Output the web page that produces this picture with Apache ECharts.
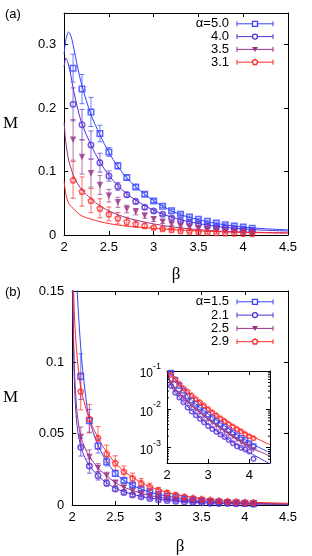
<!DOCTYPE html>
<html><head><meta charset="utf-8">
<script src="https://cdn.jsdelivr.net/npm/echarts@6/dist/echarts.min.js"></script>
<style>html,body{margin:0;padding:0;background:#fff}#c{width:312px;height:556px}</style>
</head><body><div id="c"></div>
<script>
// ---------- data ----------
const beta = [2.1,2.2,2.3,2.4,2.5,2.6,2.7,2.8,2.9,3.0,3.1,3.2,3.3,3.4,3.5,3.6,3.7,3.8,3.9,4.0,4.1];

// panel (a)
const legendA = ['α=5.0','4.0','3.5','3.1'];
const a50 = [0.263,0.230,0.194,0.160,0.131,0.109,0.0905,0.0758,0.0643,0.0537,0.0453,0.0384,0.0327,0.0284,0.0248,0.0216,0.0190,0.0163,0.0142,0.0126,0.0105];
const a40 = [0.206,0.174,0.142,0.114,0.093,0.0765,0.0635,0.053,0.0437,0.038,0.0327,0.0269,0.0226,0.0195,0.0169,0.0142,0.0121,0.0105,0.0095,0.0084,0.0068];
const a35 = [0.150,0.123,0.0975,0.079,0.062,0.0516,0.041,0.0368,0.0305,0.0248,0.021,0.0174,0.0147,0.0126,0.0105,0.009,0.0074,0.0063,0.0053,0.0042,0.0032];
const a31 = [0.0869,0.0685,0.0542,0.0421,0.0332,0.0264,0.021,0.0174,0.0147,0.0121,0.0100,0.0084,0.0068,0.0058,0.0047,0.0042,0.0036,0.0030,0.0026,0.0024,0.0020];
const ea50 = [0.022,0.023,0.023,0.013,0.007,0.005,0.004,0.003,0.003,0.0025,0.002,0.002,0.002,0.0015,0.0015,0.0015,0.0015,0.0015,0.0015,0.0015,0.0015];
const ea40 = [0.026,0.024,0.022,0.015,0.008,0.006,0.004,0.0035,0.003,0.0025,0.002,0.002,0.0015,0.0015,0.0015,0.0015,0.0015,0.0015,0.0015,0.0015,0.0015];
const ea35 = [0.032,0.027,0.022,0.015,0.010,0.008,0.006,0.005,0.004,0.0035,0.003,0.0025,0.002,0.002,0.0015,0.0015,0.0015,0.0015,0.0015,0.0015,0.0015];
const ea31 = [0.029,0.023,0.019,0.015,0.011,0.009,0.007,0.005,0.004,0.003,0.0025,0.002,0.002,0.0015,0.0015,0.0015,0.0015,0.0015,0.0015,0.0015,0.0015];
const curveBetaA = [2.0,2.02,2.05,2.08,2.1,2.15,2.2,2.3,2.4,2.5,2.6,2.7,2.8,3.0,3.25,3.5,3.75,4.0,4.25,4.5];
const fa50 = [0.285,0.308,0.320,0.312,0.300,0.265,0.235,0.190,0.158,0.130,0.108,0.090,0.076,0.054,0.035,0.024,0.017,0.0125,0.0098,0.008];
const fa40 = [0.265,0.279,0.268,0.248,0.232,0.200,0.175,0.142,0.115,0.094,0.078,0.065,0.055,0.039,0.026,0.018,0.013,0.0095,0.0075,0.0063];
const fa35 = [0.178,0.145,0.118,0.104,0.095,0.081,0.071,0.057,0.046,0.038,0.032,0.027,0.0235,0.0175,0.012,0.0085,0.006,0.0048,0.004,0.0035];
const fa31 = [0.085,0.064,0.050,0.045,0.042,0.035,0.030,0.025,0.021,0.018,0.0158,0.0142,0.0128,0.0105,0.0082,0.0065,0.0052,0.0042,0.0034,0.0028];

// panel (b)
const legendB = ['α=1.5','2.1','2.5','2.9'];
const b15 = [0.090,0.059,0.0414,0.0304,0.0221,0.0171,0.0140,0.0112,0.0092,0.0073,0.0060,0.0050,0.0042,0.0035,0.0029,0.0025,0.0021,0.0018,0.0016,0.0013,0.0011];
const b21 = [0.0405,0.0273,0.0205,0.0153,0.0112,0.0088,0.0070,0.0057,0.0046,0.0037,0.0031,0.0026,0.0022,0.0019,0.0016,0.0013,0.0011,0.0010,0.0009,0.0008,0.00052];
const b25 = [0.0477,0.0336,0.026,0.0205,0.0155,0.0122,0.0098,0.0080,0.0065,0.0053,0.0044,0.0037,0.0031,0.0026,0.0022,0.0019,0.0016,0.0014,0.0012,0.0011,0.0009];
const b29 = [0.0797,0.0605,0.047,0.036,0.0295,0.0234,0.0189,0.0155,0.0128,0.0103,0.0085,0.0071,0.0059,0.0050,0.0042,0.0036,0.0031,0.0027,0.0023,0.0020,0.0018];
const eb15 = [0.016,0.008,0.005,0.003,0.002,0.0015,0.0012,0.001,0.001,0.0008,0.0008,0.0007,0.0007,0.0006,0.0006,0.0006,0.0005,0.0005,0.0005,0.0005,0.0005];
const eb21 = [0.0062,0.005,0.003,0.002,0.0015,0.0012,0.001,0.0008,0.0008,0.0007,0.0006,0.0006,0.0005,0.0005,0.0005,0.0005,0.0005,0.0005,0.0005,0.0005,0.0005];
const eb25 = [0.007,0.005,0.003,0.0025,0.002,0.0015,0.0012,0.001,0.0009,0.0008,0.0007,0.0006,0.0006,0.0005,0.0005,0.0005,0.0005,0.0005,0.0005,0.0005,0.0005];
const eb29 = [0.013,0.010,0.008,0.006,0.005,0.004,0.0035,0.003,0.0025,0.002,0.0018,0.0015,0.0012,0.001,0.001,0.0009,0.0008,0.0008,0.0007,0.0007,0.0007];
const curveBetaB = [2.0,2.02,2.05,2.1,2.15,2.2,2.3,2.4,2.5,2.6,2.8,3.0,3.25,3.5,3.75,4.0,4.25,4.5];
const fb15 = [0.40,0.28,0.165,0.110,0.080,0.060,0.042,0.0305,0.0225,0.0172,0.0112,0.0075,0.0048,0.0031,0.0020,0.0014,0.0010,0.00074];
const fb21 = [0.20,0.10,0.060,0.041,0.033,0.0275,0.0205,0.0155,0.0118,0.0093,0.0060,0.0040,0.0025,0.0016,0.0011,0.00075,0.00053,0.00038];
const fb25 = [0.20,0.11,0.070,0.048,0.040,0.034,0.026,0.0205,0.0158,0.0125,0.0082,0.0055,0.0035,0.0023,0.0015,0.0010,0.0008,0.0006];
const fb29 = [0.25,0.145,0.110,0.082,0.070,0.060,0.047,0.037,0.0295,0.0238,0.0158,0.0107,0.0068,0.0045,0.0030,0.0021,0.0016,0.0012];

// inset log-axis minor tick values
const insetMinor = [5e-4,6e-4,7e-4,8e-4,9e-4,2e-3,3e-3,4e-3,5e-3,6e-3,7e-3,8e-3,9e-3,2e-2,3e-2,4e-2,5e-2,6e-2,7e-2,8e-2,9e-2];

// ---------- style ----------
const colors = ['#3344ff','#5530d8','#993388','#ff2a2a'];
const symbols = ['rect','circle','triangle','path://M0,-1 L0.951,-0.309 L0.588,0.809 L-0.588,0.809 L-0.951,-0.309 Z'];
const FONT = 'Liberation Sans';

function zip(xs, ys){ return xs.map((x,i)=>[x, ys[i]]); }
function errData(xs, ys, es){ return xs.map((x,i)=>[x, ys[i]-es[i], ys[i]+es[i]]); }

function axisPair(gi, min, max, interval, isX, labels, extra){
  const common = {
    gridIndex: gi, min: min, max: max, interval: interval,
    axisLine: {show: true, onZero: false, lineStyle: {color: '#000', width: 1}},
    axisTick: {show: true, inside: true, length: 4, lineStyle: {color: '#000'}},
    splitLine: {show: false}
  };
  const main = Object.assign({}, common, {
    type: 'value', position: isX ? 'bottom' : 'left',
    axisLabel: {show: true, color: '#000', fontSize: 13, fontFamily: FONT, margin: isX ? 6 : 8, showMaxLabel: labels.showMax !== false}
  }, extra || {});
  const mirror = Object.assign({}, common, {
    type: main.type, position: isX ? 'top' : 'right', axisLabel: {show: false}
  });
  return [main, mirror];
}

const nameStyle = {fontSize: 17, fontFamily: 'Liberation Serif', color: '#000'};
const xAxes = [], yAxes = [];
// panel a
xAxes.push(...axisPair(0, 2, 4.5, 0.5, true, {}, {name: 'β', nameLocation: 'middle', nameGap: 31, nameTextStyle: nameStyle}));
yAxes.push(...axisPair(0, 0, 0.35, 0.1, false, {showMax: false}, {name: 'M', nameLocation: 'middle', nameGap: 46, nameRotate: 0, nameTextStyle: nameStyle}));
// panel b
xAxes.push(...axisPair(1, 2, 4.5, 0.5, true, {}, {name: 'β', nameLocation: 'middle', nameGap: 33, nameTextStyle: nameStyle}));
yAxes.push(...axisPair(1, 0, 0.15, 0.05, false, {}, {name: 'M', nameLocation: 'middle', nameGap: 54, nameRotate: 0, nameTextStyle: nameStyle}));
// inset
xAxes.push(...axisPair(2, 2, 4.5, 1, true, {showMax: false}, {}));
const insetY = axisPair(2, 4e-4, 0.1, null, false, {}, {
  type: 'log', logBase: 10,
  axisLabel: {show: true, color: '#000', fontSize: 12, fontFamily: FONT, margin: 6, showMinLabel: false,
    formatter: function(v){ const e = Math.log10(v); const r = Math.round(e); if (Math.abs(e-r) > 1e-6) return ''; return '{b|10}{s|' + r + '}'; },
    rich: {b: {fontSize: 12, fontFamily: FONT, verticalAlign: 'bottom', lineHeight: 18}, s: {fontSize: 9, fontFamily: FONT, verticalAlign: 'top', lineHeight: 18}}}
});
delete insetY[0].interval; delete insetY[1].interval;
insetY[1].type = 'log'; insetY[1].logBase = 10;
yAxes.push(...insetY);

const series = [];
function addPanel(xi, yi, vals, errs, curveX, curves, withErr, symSize, z){
  vals.forEach((v, k) => {
    series.push({type: 'line', xAxisIndex: xi, yAxisIndex: yi, data: zip(curveX, curves[k]), smooth: 0.35, showSymbol: false,
      lineStyle: {color: colors[k], width: 1}, clip: true, z: z, silent: true});
    if (withErr) {
      series.push({type: 'custom', xAxisIndex: xi, yAxisIndex: yi, data: errData(beta, v, errs[k]), clip: true, z: z,
        renderItem: function(params, api){
          const p1 = api.coord([api.value(0), api.value(1)]);
          const p2 = api.coord([api.value(0), api.value(2)]);
          const w = 2.5, st = {stroke: colors[k], lineWidth: 1, opacity: 0.7};
          return {type: 'group', children: [
            {type: 'line', shape: {x1: p1[0], y1: p1[1], x2: p2[0], y2: p2[1]}, style: st},
            {type: 'line', shape: {x1: p1[0]-w, y1: p1[1], x2: p1[0]+w, y2: p1[1]}, style: st},
            {type: 'line', shape: {x1: p2[0]-w, y1: p2[1], x2: p2[0]+w, y2: p2[1]}, style: st}
          ]};
        }});
    }
    const filled = k === 2;
    series.push({type: 'scatter', xAxisIndex: xi, yAxisIndex: yi, data: zip(beta, v), symbol: symbols[k],
      symbolSize: k === 2 ? symSize + 1 : symSize, symbolRotate: k === 2 ? 180 : 0, clip: true, z: z + 1,
      itemStyle: filled ? {color: colors[k]} : {color: 'rgba(0,0,0,0)', borderColor: colors[k], borderWidth: 1.5}});
  });
}
addPanel(0, 0, [a50,a40,a35,a31], [ea50,ea40,ea35,ea31], curveBetaA, [fa50,fa40,fa35,fa31], true, 5.5, 3);
addPanel(2, 2, [b15,b21,b25,b29], [eb15,eb21,eb25,eb29], curveBetaB, [fb15,fb21,fb25,fb29], true, 5.5, 3);
addPanel(4, 4, [b15,b21,b25,b29], null, curveBetaB, [fb15,fb21,fb25,fb29], false, 4.5, 12);

// inset minor ticks on the log axis (left and right edges)
series.push({type: 'custom', xAxisIndex: 4, yAxisIndex: 4, data: insetMinor.map(v => [2, v]), z: 13, silent: true,
  renderItem: function(params, api){
    const cs = params.coordSys;
    const y = api.coord([2, api.value(1)])[1];
    const st = {stroke: '#000', lineWidth: 1};
    return {type: 'group', children: [
      {type: 'line', shape: {x1: cs.x, y1: y, x2: cs.x + 2, y2: y}, style: st},
      {type: 'line', shape: {x1: cs.x + cs.width - 2, y1: y, x2: cs.x + cs.width, y2: y}, style: st}
    ]};
  }});

// legends (gnuplot style: label, then line with error caps and symbol)
function legend(y0, dy, labels){
  const els = [];
  labels.forEach((t, k) => {
    const y = y0 + k*dy, c = colors[k], xa = 237, xb = 273, xm = 255;
    els.push({type: 'text', x: 229, y: y, style: {text: t, fill: '#000', font: '13px ' + FONT, textAlign: 'right', textVerticalAlign: 'middle'}});
    const st = {stroke: c, lineWidth: 1};
    els.push({type: 'line', shape: {x1: xa, y1: y, x2: xb, y2: y}, style: st});
    els.push({type: 'line', shape: {x1: xa, y1: y-2.5, x2: xa, y2: y+2.5}, style: st});
    els.push({type: 'line', shape: {x1: xb, y1: y-2.5, x2: xb, y2: y+2.5}, style: st});
    const hs = {stroke: c, lineWidth: 1.3, fill: '#fff'};
    if (k === 0) els.push({type: 'rect', shape: {x: xm-2.5, y: y-2.5, width: 5, height: 5}, style: hs});
    if (k === 1) els.push({type: 'circle', shape: {cx: xm, cy: y, r: 2.5}, style: hs});
    if (k === 2) els.push({type: 'polygon', shape: {points: [[xm-3, y-2.5],[xm+3, y-2.5],[xm, y+2.5]]}, style: {fill: c}});
    if (k === 3) els.push({type: 'polygon', shape: {points: [[xm, y-2.8],[xm+2.7, y-0.9],[xm+1.6, y+2.3],[xm-1.6, y+2.3],[xm-2.7, y-0.9]]}, style: hs});
  });
  return els;
}

const graphics = [
  {type: 'text', x: 5, y: 14, style: {text: '(a)', fill: '#000', font: '13px ' + FONT, textVerticalAlign: 'middle'}},
  {type: 'text', x: 5, y: 292, style: {text: '(b)', fill: '#000', font: '13px ' + FONT, textVerticalAlign: 'middle'}}
].concat(legend(23.8, 12.8, legendA)).concat(legend(301.8, 13.3, legendB));

const chart = echarts.init(document.getElementById('c'), null, {renderer: 'canvas'});
chart.setOption({
  animation: false,
  backgroundColor: '#fff',
  grid: [
    {left: 64, top: 13, width: 224, height: 222},
    {left: 72, top: 291, width: 216, height: 222},
    {left: 167, top: 371, width: 103, height: 92, show: true, backgroundColor: '#fff', borderWidth: 0, z: 10}
  ],
  xAxis: xAxes.map((a, i) => i >= 4 ? Object.assign(a, {z: 11}) : a),
  yAxis: yAxes.map((a, i) => i >= 4 ? Object.assign(a, {z: 11}) : a),
  series: series,
  graphic: graphics
});
</script>
</body></html>
